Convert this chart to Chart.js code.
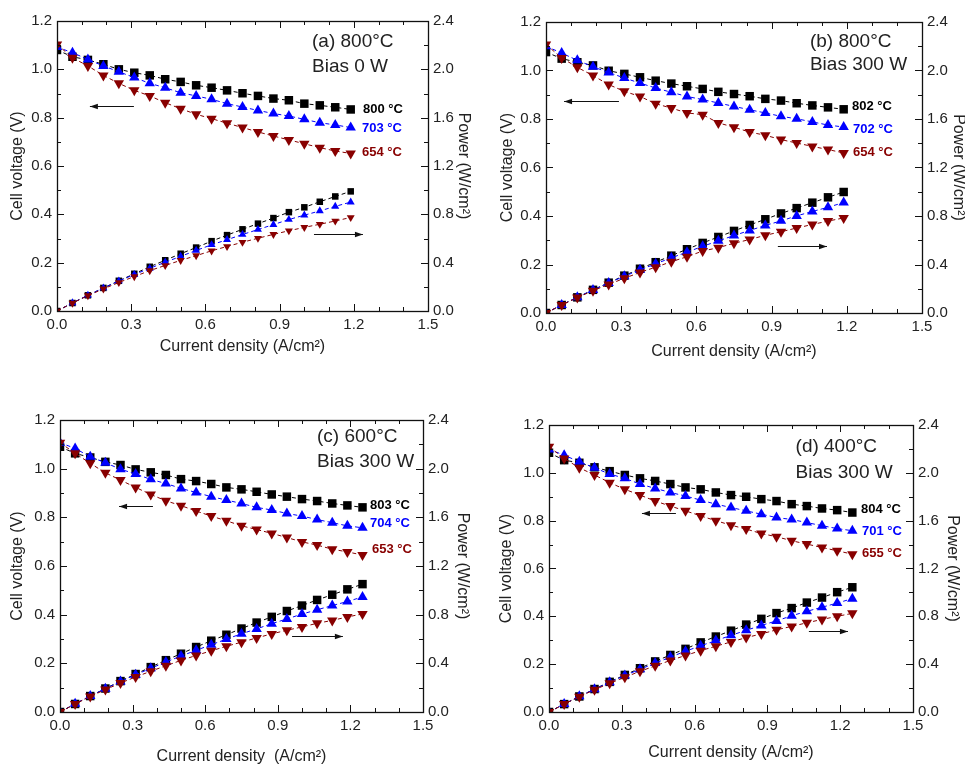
<!DOCTYPE html>
<html>
<head>
<meta charset="utf-8">
<script src="https://cdn.jsdelivr.net/npm/chart.js@4.4.1/dist/chart.umd.min.js"></script>
<style>
  html, body { margin: 0; padding: 0; background: #fff; width: 965px; height: 764px; overflow: hidden; }
  canvas { position: absolute; }
</style>
</head>
<body>
<canvas id="ca"></canvas>
<canvas id="cb"></canvas>
<canvas id="cc"></canvas>
<canvas id="cd"></canvas>
<script>
// ---------- DATA ----------
const current_ab = [0, 0.0625, 0.125, 0.1875, 0.25, 0.3125, 0.375, 0.4375, 0.5, 0.5625, 0.625, 0.6875, 0.75, 0.8125, 0.875, 0.9375, 1.0, 1.0625, 1.125, 1.1875];
const current_cd = [0, 0.0625, 0.125, 0.1875, 0.25, 0.3125, 0.375, 0.4375, 0.5, 0.5625, 0.625, 0.6875, 0.75, 0.8125, 0.875, 0.9375, 1.0, 1.0625, 1.125, 1.1875, 1.25];

// (a) 800°C, Bias 0 W
const volt_a_800 = [1.080,1.052,1.039,1.021,1.000,0.986,0.975,0.959,0.948,0.934,0.924,0.913,0.901,0.890,0.879,0.872,0.858,0.851,0.843,0.834];
const volt_a_703 = [1.092,1.069,1.041,1.014,0.990,0.966,0.942,0.924,0.903,0.890,0.876,0.858,0.844,0.830,0.817,0.807,0.793,0.779,0.770,0.759];
const volt_a_654 = [1.103,1.048,1.014,0.975,0.942,0.913,0.890,0.862,0.837,0.814,0.796,0.777,0.759,0.741,0.724,0.708,0.692,0.676,0.662,0.652];
const pow_a_800 = [0,0.066,0.130,0.191,0.250,0.308,0.366,0.420,0.474,0.525,0.578,0.628,0.676,0.723,0.769,0.818,0.858,0.904,0.948,0.990];
const pow_a_703 = [0,0.067,0.130,0.190,0.248,0.302,0.353,0.404,0.452,0.501,0.548,0.590,0.633,0.674,0.715,0.757,0.793,0.828,0.866,0.901];
const pow_a_654 = [0,0.066,0.127,0.183,0.236,0.285,0.334,0.377,0.419,0.458,0.498,0.534,0.569,0.602,0.634,0.664,0.692,0.718,0.745,0.774];

// (b) 800°C, Bias 300 W
const volt_b_802 = [1.076,1.049,1.034,1.021,0.999,0.986,0.972,0.958,0.946,0.935,0.924,0.912,0.903,0.894,0.883,0.876,0.865,0.856,0.848,0.840];
const volt_b_702 = [1.100,1.072,1.042,1.015,0.992,0.969,0.948,0.928,0.910,0.893,0.880,0.866,0.852,0.838,0.825,0.811,0.801,0.788,0.775,0.767];
const volt_b_654 = [1.107,1.052,1.013,0.979,0.942,0.914,0.893,0.863,0.845,0.825,0.818,0.784,0.766,0.746,0.733,0.715,0.701,0.687,0.674,0.660];
const pow_b_802 = [0,0.066,0.129,0.191,0.250,0.308,0.365,0.419,0.473,0.526,0.578,0.627,0.677,0.726,0.773,0.821,0.865,0.910,0.954,0.998];
const pow_b_702 = [0,0.067,0.130,0.190,0.248,0.303,0.356,0.406,0.455,0.502,0.550,0.595,0.639,0.681,0.722,0.760,0.801,0.837,0.872,0.911];
const pow_b_654 = [0,0.066,0.127,0.184,0.236,0.286,0.335,0.378,0.423,0.464,0.511,0.539,0.575,0.606,0.641,0.670,0.701,0.730,0.758,0.784];

// (c) 600°C, Bias 300 W
const volt_c_803 = [1.090,1.063,1.046,1.028,1.015,0.997,0.985,0.974,0.957,0.949,0.937,0.923,0.915,0.905,0.894,0.885,0.875,0.867,0.857,0.849,0.841];
const volt_c_704 = [1.107,1.083,1.049,1.024,0.998,0.978,0.956,0.939,0.919,0.902,0.885,0.871,0.857,0.841,0.830,0.816,0.805,0.791,0.778,0.765,0.757];
const volt_c_653 = [1.107,1.063,1.022,0.983,0.953,0.923,0.894,0.868,0.848,0.826,0.805,0.786,0.765,0.750,0.734,0.717,0.699,0.686,0.669,0.658,0.645];
const pow_c_803 = [0,0.066,0.131,0.193,0.254,0.312,0.369,0.426,0.479,0.534,0.586,0.635,0.686,0.735,0.782,0.830,0.875,0.921,0.964,1.008,1.051];
const pow_c_704 = [0,0.068,0.131,0.192,0.250,0.306,0.359,0.411,0.460,0.507,0.553,0.599,0.643,0.683,0.726,0.765,0.805,0.840,0.875,0.908,0.946];
const pow_c_653 = [0,0.066,0.128,0.184,0.238,0.288,0.335,0.380,0.424,0.465,0.503,0.540,0.574,0.609,0.642,0.672,0.699,0.729,0.753,0.781,0.806];

// (d) 400°C, Bias 300 W
const volt_d_804 = [1.084,1.053,1.042,1.023,1.007,0.991,0.977,0.966,0.953,0.939,0.931,0.918,0.907,0.900,0.890,0.882,0.869,0.861,0.851,0.844,0.834];
const volt_d_701 = [1.098,1.074,1.046,1.021,0.995,0.977,0.953,0.935,0.918,0.903,0.886,0.869,0.855,0.841,0.827,0.813,0.805,0.792,0.779,0.767,0.758];
const volt_d_655 = [1.109,1.060,1.021,0.991,0.959,0.931,0.907,0.882,0.861,0.841,0.820,0.800,0.781,0.765,0.746,0.733,0.716,0.702,0.688,0.674,0.660];
const pow_d_804 = [0,0.066,0.130,0.192,0.252,0.310,0.366,0.423,0.477,0.528,0.582,0.631,0.680,0.731,0.779,0.827,0.869,0.915,0.957,1.002,1.043];
const pow_d_701 = [0,0.067,0.131,0.191,0.249,0.305,0.357,0.409,0.459,0.508,0.554,0.597,0.641,0.683,0.724,0.762,0.805,0.842,0.876,0.911,0.948];
const pow_d_655 = [0,0.066,0.128,0.186,0.240,0.291,0.340,0.386,0.431,0.473,0.513,0.550,0.586,0.622,0.653,0.687,0.716,0.746,0.774,0.800,0.825];

// tick labels
const xTicks = [0.0, 0.3, 0.6, 0.9, 1.2, 1.5];
const voltTicks = [0.0, 0.2, 0.4, 0.6, 0.8, 1.0, 1.2];
const powerTicks = [0.0, 0.4, 0.8, 1.2, 1.6, 2.0, 2.4];

// text
const panelTitles = [["(a) 800°C", "Bias 0 W"], ["(b) 800°C", "Bias 300 W"], ["(c) 600°C", "Bias 300 W"], ["(d) 400°C", "Bias 300 W"]];
const tempLabels = [["800 °C", "703 °C", "654 °C"], ["802 °C", "702 °C", "654 °C"], ["803 °C", "704 °C", "653 °C"], ["804 °C", "701 °C", "655 °C"]];

// ---------- STYLE / LAYOUT ----------
const FONT = "'Liberation Sans', Arial, Helvetica, sans-serif";
const COLORS = ['#000000', '#0000ff', '#880000'];
const STYLES = ['rect', 'triangle', 'triangle'];
const ROTS = [0, 0, 180];

const panels = [
  { id: 'ca', canvas: [0, 0, 482, 362], box: { left: 57, right: 54, top: 21, bottom: 51 }, tpad: { l: 10, r: 11, b: 7 },
    x: current_ab, volts: [volt_a_800, volt_a_703, volt_a_654], pows: [pow_a_800, pow_a_703, pow_a_654], pr: 4.6,
    xTitle: 'Current density (A/cm²)',
    titlePos: [1.031, 1.113, 1.010], tempPos: [[1.237, 0.836], [1.233, 0.757], [1.233, 0.658]],
    arrowL: [0.133, 0.311, 0.848], arrowR: [1.039, 1.237, 0.319] },
  { id: 'cb', canvas: [485, 0, 490, 365], box: { left: 61, right: 53, top: 22, bottom: 52 }, tpad: { l: 15, r: 9, b: 5 },
    x: current_ab, volts: [volt_b_802, volt_b_702, volt_b_654], pows: [pow_b_802, pow_b_702, pow_b_654], pr: 6,
    xTitle: 'Current density (A/cm²)',
    titlePos: [1.053, 1.118, 1.023], tempPos: [[1.221, 0.850], [1.225, 0.759], [1.225, 0.664]],
    arrowL: [0.072, 0.291, 0.874], arrowR: [0.925, 1.121, 0.276] },
  { id: 'cc', canvas: [0, 400, 482, 372], box: { left: 60, right: 59, top: 20, bottom: 60 }, tpad: { l: 10, r: 12, b: 7 },
    x: current_cd, volts: [volt_c_803, volt_c_704, volt_c_653], pows: [pow_c_803, pow_c_704, pow_c_653], pr: 6,
    xTitle: 'Current density  (A/cm²)',
    titlePos: [1.062, 1.130, 1.028], tempPos: [[1.281, 0.851], [1.281, 0.773], [1.289, 0.670]],
    arrowL: [0.244, 0.384, 0.847], arrowR: [0.959, 1.169, 0.312] },
  { id: 'cd', canvas: [485, 400, 485, 370], box: { left: 64, right: 57, top: 25, bottom: 58 }, tpad: { l: 14, r: 10, b: 9 },
    x: current_cd, volts: [volt_d_804, volt_d_701, volt_d_655], pows: [pow_d_804, pow_d_701, pow_d_655], pr: 6,
    xTitle: 'Current density (A/cm²)',
    titlePos: [1.016, 1.108, 0.999], tempPos: [[1.286, 0.845], [1.290, 0.753], [1.290, 0.665]],
    arrowL: [0.383, 0.523, 0.832], arrowR: [1.071, 1.232, 0.339] }
];

function pts(xs, ys) { return xs.map((x, i) => ({ x: x, y: ys[i] })); }

const decor = {
  id: 'decor',
  afterDatasetsDraw(chart, args, opts) {
    const p = opts.panel, k = opts.index;
    const { ctx, chartArea: a, scales } = chart;
    const sx = scales.x, sy = scales.y;
    ctx.save();
    // frame
    ctx.strokeStyle = '#111';
    ctx.lineWidth = 1.3;
    ctx.strokeRect(Math.round(a.left) + 0.5, Math.round(a.top) + 0.5, Math.round(a.right - a.left), Math.round(a.bottom - a.top));
    // inward ticks
    ctx.lineWidth = 1;
    ctx.beginPath();
    for (let i = 0; i <= 15; i++) {
      const px = Math.round(sx.getPixelForValue(i * 0.1)) + 0.5;
      const len = (i % 3 === 0) ? 7 : 4;
      ctx.moveTo(px, a.bottom); ctx.lineTo(px, a.bottom - len);
      ctx.moveTo(px, a.top); ctx.lineTo(px, a.top + len);
    }
    for (let i = 0; i <= 12; i++) {
      const py = Math.round(sy.getPixelForValue(i * 0.1)) + 0.5;
      const len = (i % 2 === 0) ? 7 : 4;
      ctx.moveTo(a.left, py); ctx.lineTo(a.left + len, py);
      ctx.moveTo(a.right, py); ctx.lineTo(a.right - len, py);
    }
    ctx.stroke();
    // panel title
    ctx.fillStyle = '#222';
    ctx.textAlign = 'left';
    ctx.textBaseline = 'middle';
    ctx.font = '19px ' + FONT;
    const tx = sx.getPixelForValue(p.titlePos[0]);
    ctx.fillText(panelTitles[k][0], tx, sy.getPixelForValue(p.titlePos[1]));
    ctx.fillText(panelTitles[k][1], tx, sy.getPixelForValue(p.titlePos[2]));
    // temperature labels
    ctx.font = 'bold 13px ' + FONT;
    for (let j = 0; j < 3; j++) {
      ctx.fillStyle = COLORS[j];
      ctx.fillText(tempLabels[k][j], sx.getPixelForValue(p.tempPos[j][0]), sy.getPixelForValue(p.tempPos[j][1]));
    }
    // arrows
    ctx.strokeStyle = '#111';
    ctx.fillStyle = '#111';
    function arrow(x1, x2, y, left) {
      const X1 = sx.getPixelForValue(x1), X2 = sx.getPixelForValue(x2), Y = Math.round(sy.getPixelForValue(y)) + 0.5;
      ctx.beginPath();
      ctx.moveTo(X1, Y); ctx.lineTo(X2, Y); ctx.stroke();
      ctx.beginPath();
      if (left) { ctx.moveTo(X1, Y); ctx.lineTo(X1 + 8, Y - 2.8); ctx.lineTo(X1 + 8, Y + 2.8); }
      else { ctx.moveTo(X2, Y); ctx.lineTo(X2 - 8, Y - 2.8); ctx.lineTo(X2 - 8, Y + 2.8); }
      ctx.closePath(); ctx.fill();
    }
    arrow(p.arrowL[0], p.arrowL[1], p.arrowL[2], true);
    arrow(p.arrowR[0], p.arrowR[1], p.arrowR[2], false);
    ctx.restore();
  }
};

panels.forEach((p, k) => {
  const cv = document.getElementById(p.id);
  cv.width = p.canvas[2]; cv.height = p.canvas[3];
  cv.style.left = p.canvas[0] + 'px'; cv.style.top = p.canvas[1] + 'px';
  cv.style.width = p.canvas[2] + 'px'; cv.style.height = p.canvas[3] + 'px';

  const datasets = [];
  for (let j = 0; j < 3; j++) {
    datasets.push({
      data: pts(p.x, p.volts[j]), yAxisID: 'y',
      borderColor: COLORS[j], backgroundColor: COLORS[j], borderWidth: 1, borderDash: [4, 3],
      pointStyle: STYLES[j], pointRotation: ROTS[j], pointRadius: 6, pointBorderWidth: 0,
      showLine: true, order: 3 - j
    });
    datasets.push({
      data: pts(p.x, p.pows[j]), yAxisID: 'y2',
      borderColor: COLORS[j], backgroundColor: COLORS[j], borderWidth: 1, borderDash: [4, 3],
      pointStyle: STYLES[j], pointRotation: ROTS[j], pointRadius: p.pr, pointBorderWidth: 0,
      showLine: true, order: 3 - j
    });
  }

  const tickFont = { family: FONT, size: 15 };
  const titleFont = { family: FONT, size: 16, lineHeight: 1 };
  const noGrid = { display: false, drawTicks: false, tickLength: 0 };

  new Chart(cv, {
    type: 'scatter',
    data: { datasets: datasets },
    plugins: [decor],
    options: {
      responsive: false, animation: false, devicePixelRatio: 1,
      layout: { padding: { top: p.box.top, left: 0, right: 0, bottom: 0 }, autoPadding: false },
      plugins: { legend: { display: false }, tooltip: { enabled: false }, decor: { panel: p, index: k } },
      scales: {
        x: {
          type: 'linear', position: 'bottom', min: 0, max: 1.5,
          grid: noGrid, border: { display: false },
          afterBuildTicks: s => { s.ticks = xTicks.map(v => ({ value: v })); },
          afterFit: s => { s.height = p.box.bottom; },
          ticks: { font: tickFont, color: '#222', padding: 5, maxRotation: 0, autoSkip: false, callback: v => Number(v).toFixed(1) },
          title: { display: true, text: p.xTitle, font: titleFont, color: '#222', padding: p.tpad.b }
        },
        y: {
          type: 'linear', position: 'left', min: 0, max: 1.2,
          grid: noGrid, border: { display: false },
          afterBuildTicks: s => { s.ticks = voltTicks.map(v => ({ value: v })); },
          afterFit: s => { s.width = p.box.left; },
          ticks: { font: tickFont, color: '#222', padding: 5, autoSkip: false, callback: v => Number(v).toFixed(1) },
          title: { display: true, text: 'Cell voltage (V)', font: titleFont, color: '#222', padding: p.tpad.l }
        },
        y2: {
          type: 'linear', position: 'right', min: 0, max: 2.4,
          grid: noGrid, border: { display: false },
          afterBuildTicks: s => { s.ticks = powerTicks.map(v => ({ value: v })); },
          afterFit: s => { s.width = p.box.right; },
          ticks: { font: tickFont, color: '#222', padding: 5, autoSkip: false, callback: v => Number(v).toFixed(1) },
          title: { display: true, text: 'Power (W/cm²)', font: titleFont, color: '#222', padding: p.tpad.r }
        }
      }
    }
  });
});
</script>
</body>
</html>
